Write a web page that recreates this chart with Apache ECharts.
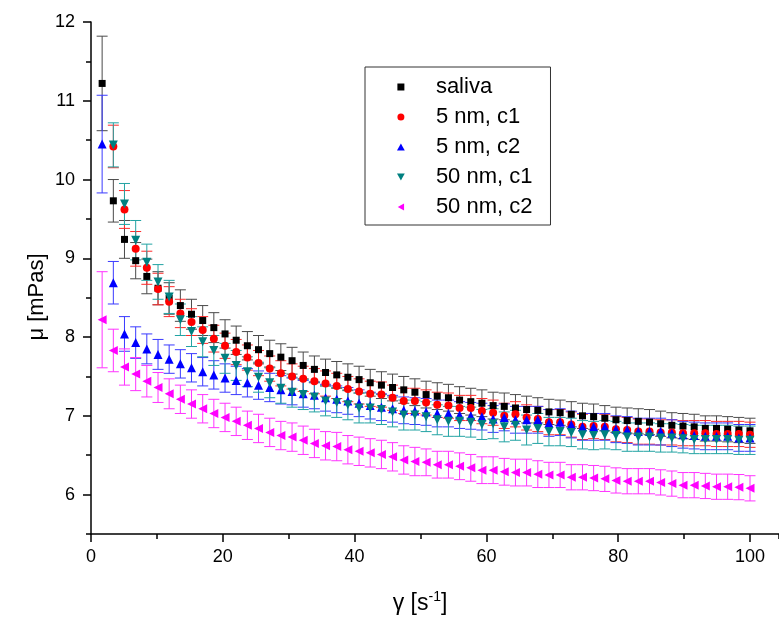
<!DOCTYPE html>
<html><head><meta charset="utf-8">
<script src="https://cdn.jsdelivr.net/npm/echarts@6/dist/echarts.min.js"></script>
<style>html,body{margin:0;padding:0;background:#fff}#c{width:779px;height:621px}</style>
</head><body><div id="c"></div>
<script>
const shearRate = [1.69,3.39,5.08,6.78,8.47,10.17,11.86,13.56,15.25,16.95,18.64,20.34,22.03,23.73,25.42,27.12,28.81,30.51,32.20,33.90,35.59,37.29,38.98,40.68,42.37,44.07,45.76,47.46,49.15,50.85,52.54,54.24,55.93,57.63,59.32,61.02,62.71,64.41,66.10,67.80,69.49,71.19,72.88,74.58,76.27,77.97,79.66,81.36,83.05,84.75,86.44,88.14,89.83,91.53,93.22,94.92,96.61,98.31,100];

const saliva = [11.22,9.73,9.24,8.97,8.77,8.62,8.49,8.40,8.29,8.21,8.12,8.04,7.96,7.89,7.84,7.79,7.745,7.70,7.64,7.59,7.55,7.52,7.49,7.46,7.42,7.39,7.36,7.33,7.30,7.27,7.25,7.23,7.20,7.18,7.16,7.13,7.12,7.10,7.08,7.07,7.05,7.04,7.02,7.00,6.99,6.97,6.95,6.94,6.93,6.92,6.90,6.88,6.87,6.86,6.84,6.84,6.83,6.82,6.81];
const salivaErr = [0.60,0.27,0.24,0.23,0.22,0.21,0.20,0.20,0.19,0.19,0.19,0.18,0.18,0.18,0.18,0.17,0.17,0.17,0.17,0.17,0.17,0.17,0.17,0.17,0.17,0.17,0.17,0.17,0.17,0.17,0.17,0.17,0.17,0.17,0.17,0.17,0.17,0.17,0.17,0.16,0.16,0.16,0.16,0.16,0.16,0.16,0.16,0.16,0.16,0.16,0.16,0.16,0.16,0.16,0.16,0.16,0.16,0.16,0.16];

const nm5c1 = [null,10.42,9.62,9.12,8.88,8.61,8.45,8.30,8.19,8.09,7.98,7.89,7.81,7.74,7.67,7.60,7.54,7.50,7.47,7.44,7.41,7.38,7.34,7.31,7.28,7.27,7.23,7.19,7.19,7.17,7.14,7.13,7.10,7.10,7.06,7.04,7.00,7.02,6.98,6.96,6.92,6.92,6.89,6.86,6.87,6.86,6.83,6.82,6.80,6.80,6.79,6.79,6.78,6.78,6.78,6.77,6.77,6.77,6.76];
const nm5c1Err = [null,0.27,0.24,0.22,0.21,0.20,0.19,0.18,0.17,0.17,0.17,0.16,0.16,0.16,0.16,0.16,0.16,0.16,0.16,0.16,0.16,0.16,0.16,0.16,0.16,0.16,0.16,0.16,0.16,0.16,0.16,0.16,0.16,0.16,0.16,0.16,0.16,0.16,0.16,0.16,0.16,0.16,0.16,0.16,0.16,0.16,0.16,0.16,0.16,0.16,0.16,0.16,0.16,0.16,0.16,0.16,0.16,0.16,0.16];

const nm5c2 = [10.45,8.69,8.04,7.93,7.85,7.78,7.72,7.66,7.61,7.56,7.52,7.48,7.45,7.42,7.39,7.36,7.33,7.31,7.28,7.26,7.23,7.21,7.19,7.16,7.13,7.11,7.09,7.07,7.06,7.05,7.03,7.03,7.01,7.00,6.99,6.96,6.98,6.95,6.95,6.95,6.91,6.92,6.89,6.86,6.86,6.86,6.83,6.82,6.80,6.80,6.80,6.78,6.76,6.75,6.74,6.74,6.74,6.72,6.72];
const nm5c2Err = [0.62,0.27,0.22,0.20,0.19,0.19,0.18,0.18,0.18,0.18,0.18,0.18,0.18,0.18,0.18,0.18,0.18,0.17,0.17,0.17,0.17,0.17,0.17,0.17,0.17,0.17,0.17,0.17,0.17,0.17,0.17,0.17,0.17,0.17,0.17,0.17,0.17,0.17,0.17,0.17,0.17,0.17,0.17,0.17,0.17,0.17,0.17,0.17,0.17,0.17,0.17,0.17,0.17,0.17,0.17,0.17,0.17,0.17,0.17];

const nm50c1 = [null,10.44,9.69,9.23,8.95,8.70,8.51,8.22,8.07,7.94,7.83,7.73,7.64,7.56,7.49,7.42,7.35,7.30,7.27,7.24,7.19,7.17,7.14,7.10,7.10,7.08,7.05,7.01,7.01,6.99,6.95,6.93,6.93,6.92,6.89,6.90,6.86,6.88,6.82,6.84,6.80,6.80,6.79,6.76,6.75,6.76,6.75,6.73,6.73,6.73,6.72,6.72,6.71,6.70,6.70,6.70,6.70,6.69,6.69];
const nm50c1Err = [null,0.28,0.26,0.25,0.23,0.22,0.21,0.20,0.19,0.19,0.19,0.19,0.19,0.19,0.19,0.19,0.19,0.19,0.19,0.19,0.19,0.19,0.19,0.19,0.19,0.19,0.19,0.19,0.19,0.19,0.19,0.19,0.19,0.19,0.19,0.19,0.19,0.19,0.19,0.19,0.18,0.18,0.18,0.18,0.18,0.18,0.18,0.18,0.18,0.18,0.18,0.18,0.18,0.18,0.18,0.18,0.18,0.18,0.18];

const nm50c2 = [8.22,7.83,7.62,7.53,7.44,7.36,7.28,7.21,7.15,7.09,7.03,6.98,6.93,6.88,6.84,6.79,6.75,6.73,6.69,6.65,6.62,6.61,6.57,6.55,6.53,6.51,6.48,6.44,6.42,6.41,6.38,6.38,6.36,6.34,6.31,6.31,6.29,6.28,6.28,6.26,6.25,6.25,6.22,6.22,6.21,6.20,6.18,6.17,6.17,6.17,6.155,6.14,6.12,6.12,6.11,6.10,6.10,6.095,6.08];
const nm50c2Err = [0.61,0.27,0.23,0.21,0.20,0.19,0.19,0.18,0.18,0.18,0.18,0.18,0.18,0.18,0.18,0.18,0.18,0.18,0.18,0.18,0.18,0.18,0.18,0.18,0.18,0.18,0.18,0.18,0.18,0.17,0.17,0.17,0.17,0.17,0.17,0.17,0.17,0.17,0.17,0.17,0.16,0.16,0.16,0.16,0.16,0.16,0.16,0.16,0.16,0.16,0.16,0.16,0.16,0.16,0.16,0.16,0.16,0.16,0.16];

const seriesNames = ['saliva', '5 nm, c1', '5 nm, c2', '50 nm, c1', '50 nm, c2'];
const yAxisMin = 5.5, yAxisMax = 12, yMajorMin = 6, yMajorStep = 1, yMinorStep = 0.5;
const xAxisMin = 0, xAxisMax = 104.4, xMajorStep = 20, xMinorStep = 10;

const FONT = '"Liberation Sans", Arial, sans-serif';
const SQ = 'path://M0,0L10,0L10,10L0,10Z';
const UP = 'path://M5,0L10,9L0,9Z';
const DOWN = 'path://M0,0L10,0L5,9Z';
const LEFT = 'path://M9,0L9,10L0,5Z';
const defs = [
  {name: seriesNames[0], y: saliva, e: salivaErr, color: '#000000', bar: '#4a4a4a', symbol: SQ, size: 7},
  {name: seriesNames[1], y: nm5c1, e: nm5c1Err, color: '#ff0000', bar: '#ff2a2a', symbol: 'circle', size: 8},
  {name: seriesNames[2], y: nm5c2, e: nm5c2Err, color: '#0000ff', bar: '#3a3aff', symbol: UP, size: 9},
  {name: seriesNames[3], y: nm50c1, e: nm50c1Err, color: '#008080', bar: '#22a3a3', symbol: DOWN, size: 9},
  {name: seriesNames[4], y: nm50c2, e: nm50c2Err, color: '#ff00ff', bar: '#ff33ff', symbol: LEFT, size: 9}
];

function errRender(color) {
  return function (params, api) {
    const x = api.value(0), y = api.value(1), e = api.value(2);
    const top = api.coord([x, y + e]);
    const bot = api.coord([x, y - e]);
    const hw = 5.5;
    const st = {stroke: color, lineWidth: 1};
    return {type: 'group', children: [
      {type: 'line', shape: {x1: top[0], y1: top[1], x2: bot[0], y2: bot[1]}, style: st},
      {type: 'line', shape: {x1: top[0] - hw, y1: top[1], x2: top[0] + hw, y2: top[1]}, style: st},
      {type: 'line', shape: {x1: bot[0] - hw, y1: bot[1], x2: bot[0] + hw, y2: bot[1]}, style: st}
    ]};
  };
}

const series = [];
defs.forEach(function (d) {
  const errData = [], ptData = [];
  shearRate.forEach(function (x, i) {
    if (d.y[i] == null) return;
    errData.push([x, d.y[i], d.e[i]]);
    ptData.push([x, d.y[i]]);
  });
  series.push({
    type: 'custom', name: d.name + ' err', renderItem: errRender(d.bar),
    data: errData, encode: {x: 0, y: 1}, silent: true, z: 2
  });
  series.push({
    type: 'scatter', name: d.name, data: ptData, symbol: d.symbol, symbolSize: d.size,
    itemStyle: {color: d.color, opacity: 1}, z: 2, silent: true
  });
});

// pixel layout of plot area
const gTop = 22, gBottom = 87, gLeft = 91;
const plotH = 621 - gTop - gBottom;
const pxPerUnit = plotH / (yAxisMax - yAxisMin);
const majorGridBottom = gBottom + (yMajorMin - yAxisMin) * pxPerUnit;

const axisLineStyle = {color: '#000', width: 1.5};
const option = {
  animation: false,
  backgroundColor: '#fff',
  grid: [
    {left: gLeft, top: gTop, right: 0, bottom: gBottom, containLabel: false, outerBoundsMode: 'none'},
    {left: gLeft, top: gTop, right: 0, bottom: majorGridBottom, containLabel: false, outerBoundsMode: 'none'}
  ],
  xAxis: [
    {type: 'value', gridIndex: 0, min: xAxisMin, max: xAxisMax, interval: xMajorStep,
     axisLine: {show: true, onZero: false, lineStyle: axisLineStyle},
     axisTick: {show: true, inside: false, length: 8, lineStyle: axisLineStyle},
     minorTick: {show: false}, splitLine: {show: false},
     axisLabel: {fontSize: 18, color: '#000', fontFamily: FONT, margin: 14, showMaxLabel: false}},
    {type: 'value', gridIndex: 0, min: xAxisMin, max: xAxisMax, interval: xMinorStep, position: 'bottom',
     axisLine: {show: false}, axisTick: {show: true, inside: false, length: 5, lineStyle: axisLineStyle},
     axisLabel: {show: false}, splitLine: {show: false}},
    {type: 'value', gridIndex: 1, min: xAxisMin, max: xAxisMax, show: false}
  ],
  yAxis: [
    {type: 'value', gridIndex: 0, min: yAxisMin, max: yAxisMax, interval: yMinorStep,
     axisLine: {show: true, onZero: false, lineStyle: axisLineStyle},
     axisTick: {show: true, inside: false, length: 5, lineStyle: axisLineStyle},
     splitLine: {show: false}, axisLabel: {show: false}},
    {type: 'value', gridIndex: 1, min: yMajorMin, max: yAxisMax, interval: yMajorStep,
     axisLine: {show: false},
     axisTick: {show: true, inside: false, length: 8, lineStyle: axisLineStyle},
     splitLine: {show: false},
     axisLabel: {fontSize: 18, color: '#000', fontFamily: FONT, margin: 16}}
  ],
  legend: {
    orient: 'vertical', left: 365, top: 67, padding: [9, 18, 7, 32],
    itemWidth: 60, itemHeight: 7, itemGap: 8,
    borderColor: '#333', borderWidth: 1, backgroundColor: '#fff',
    selectedMode: false,
    textStyle: {fontSize: 22, fontFamily: FONT, color: '#000', lineHeight: 22},
    data: [
      {name: seriesNames[0], icon: SQ},
      {name: seriesNames[1], icon: 'circle'},
      {name: seriesNames[2], icon: UP},
      {name: seriesNames[3], icon: DOWN},
      {name: seriesNames[4], icon: LEFT}
    ]
  },
  graphic: [
    {type: 'text', x: 37, y: 297, rotation: Math.PI / 2,
     style: {text: 'μ [mPas]', fontSize: 22, fontFamily: FONT, fill: '#000', align: 'center', verticalAlign: 'middle'}},
    {type: 'text', x: 420, y: 604,
     style: {text: '{a|γ [s}{b|-1}{a|]}', align: 'center', verticalAlign: 'middle',
       rich: {a: {fontSize: 23, fontFamily: FONT, fill: '#000', lineHeight: 28},
              b: {fontSize: 14, fontFamily: FONT, fill: '#000', verticalAlign: 'top'}}}}
  ],
  series: series
};
const chart = echarts.init(document.getElementById('c'), null, {renderer: 'canvas'});
chart.setOption(option);
</script>
</body></html>
